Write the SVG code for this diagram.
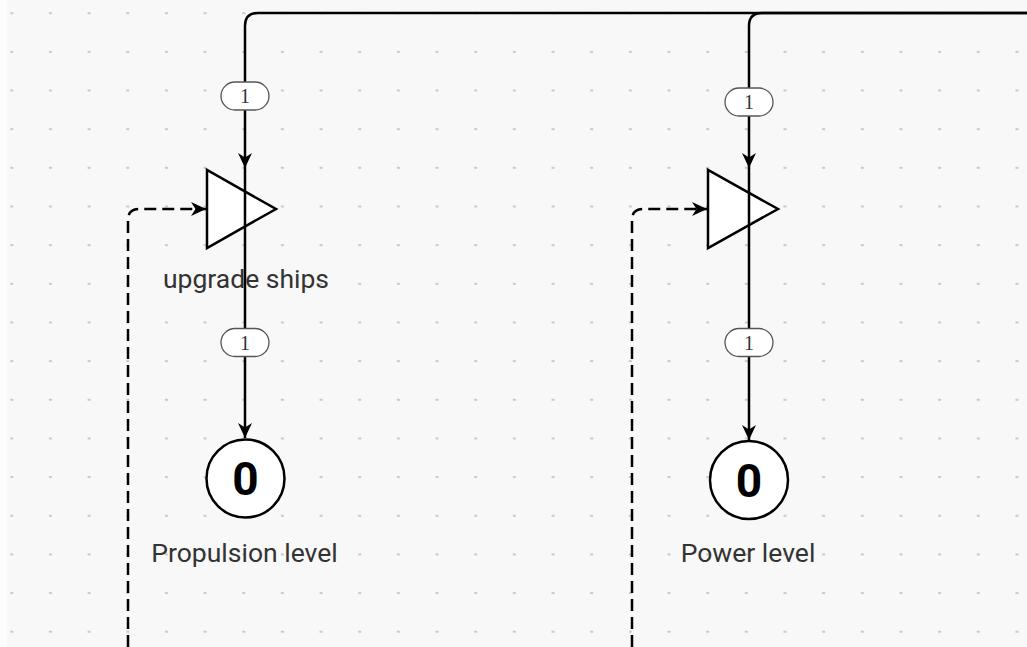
<svg xmlns="http://www.w3.org/2000/svg" width="1027" height="647" viewBox="0 0 1027 647">
<defs>
<pattern id="dots" x="10.3" y="12.2" width="38.66" height="38.66" patternUnits="userSpaceOnUse">
<rect x="0" y="0" width="3" height="2" fill="#c9c9c9"/>
</pattern>
<marker id="arr" markerUnits="userSpaceOnUse" markerWidth="18" markerHeight="16" refX="15" refY="7.5" orient="auto" viewBox="0 0 18 16">
<path d="M0,0.5 L15,7.5 L0,14.5 L4.5,7.5 Z" fill="#000"/>
</marker>
</defs>
<style>
.bg{fill:#f8f8f8}
.conn{fill:none;stroke:#000;stroke-width:2.5}
.dash{fill:none;stroke:#000;stroke-width:2.5;stroke-dasharray:12 6}
.tri{fill:#fff;stroke:#000;stroke-width:2.5;stroke-linejoin:miter}
.pool{fill:#fff;stroke:#000;stroke-width:2.5}
.pill{fill:#fff;stroke:#555;stroke-width:1.3}
.pt{font-family:"Liberation Serif",serif;font-size:20px;fill:#333;text-anchor:middle}
.lbl{font-family:Roboto,"Liberation Sans",sans-serif;font-size:26.5px;fill:#333;text-anchor:middle}
.num{font-family:Roboto,"Liberation Sans",sans-serif;font-size:46px;font-weight:bold;fill:#000;text-anchor:middle}
</style>
<rect class="bg" x="0" y="0" width="1027" height="647"/>
<rect x="0" y="0" width="7" height="647" fill="#fdfdfd"/>
<rect x="7" y="0" width="1020" height="647" fill="url(#dots)"/>
<g id="upgrade-ships">
<polygon class="tri" points="207,170 207,248 276,209"/>
<text class="lbl" x="246" y="288">upgrade ships</text>
</g>
<g id="converter-2">
<polygon class="tri" points="708,170 708,248 778,209"/>
</g>
<g id="propulsion-level">
<circle class="pool" cx="245.5" cy="478.5" r="39"/>
<text class="num" x="245.5" y="495">0</text>
<text class="lbl" x="244.5" y="562">Propulsion level</text>
</g>
<g id="power-level">
<circle class="pool" cx="749" cy="480" r="39"/>
<text class="num" x="749" y="497">0</text>
<text class="lbl" x="748" y="562">Power level</text>
</g>
<g id="connectors">
<path class="conn" d="M1027,13 L258,13 Q245,13 245,26 L245,168" marker-end="url(#arr)"/>
<path class="conn" d="M1027,13 L762,13 Q749,13 749,26 L749,168" marker-end="url(#arr)"/>
<path class="conn" d="M245,168 L245,438" marker-end="url(#arr)"/>
<path class="conn" d="M749,168 L749,440" marker-end="url(#arr)"/>
<path class="dash" d="M128,647 L128,220 Q128,209 139,209 L206,209" marker-end="url(#arr)"/>
<path class="dash" d="M632,647 L632,220 Q632,209 643,209 L707,209" marker-end="url(#arr)"/>
<rect class="pill" x="221" y="82" width="48" height="28" rx="14"/>
<text class="pt" x="245" y="103">1</text>
<rect class="pill" x="725" y="88" width="48" height="28" rx="14"/>
<text class="pt" x="749" y="109">1</text>
<rect class="pill" x="221" y="328.5" width="48" height="28" rx="14"/>
<text class="pt" x="245" y="349.5">1</text>
<rect class="pill" x="725" y="328.5" width="48" height="28" rx="14"/>
<text class="pt" x="749" y="349.5">1</text>
</g>
</svg>
